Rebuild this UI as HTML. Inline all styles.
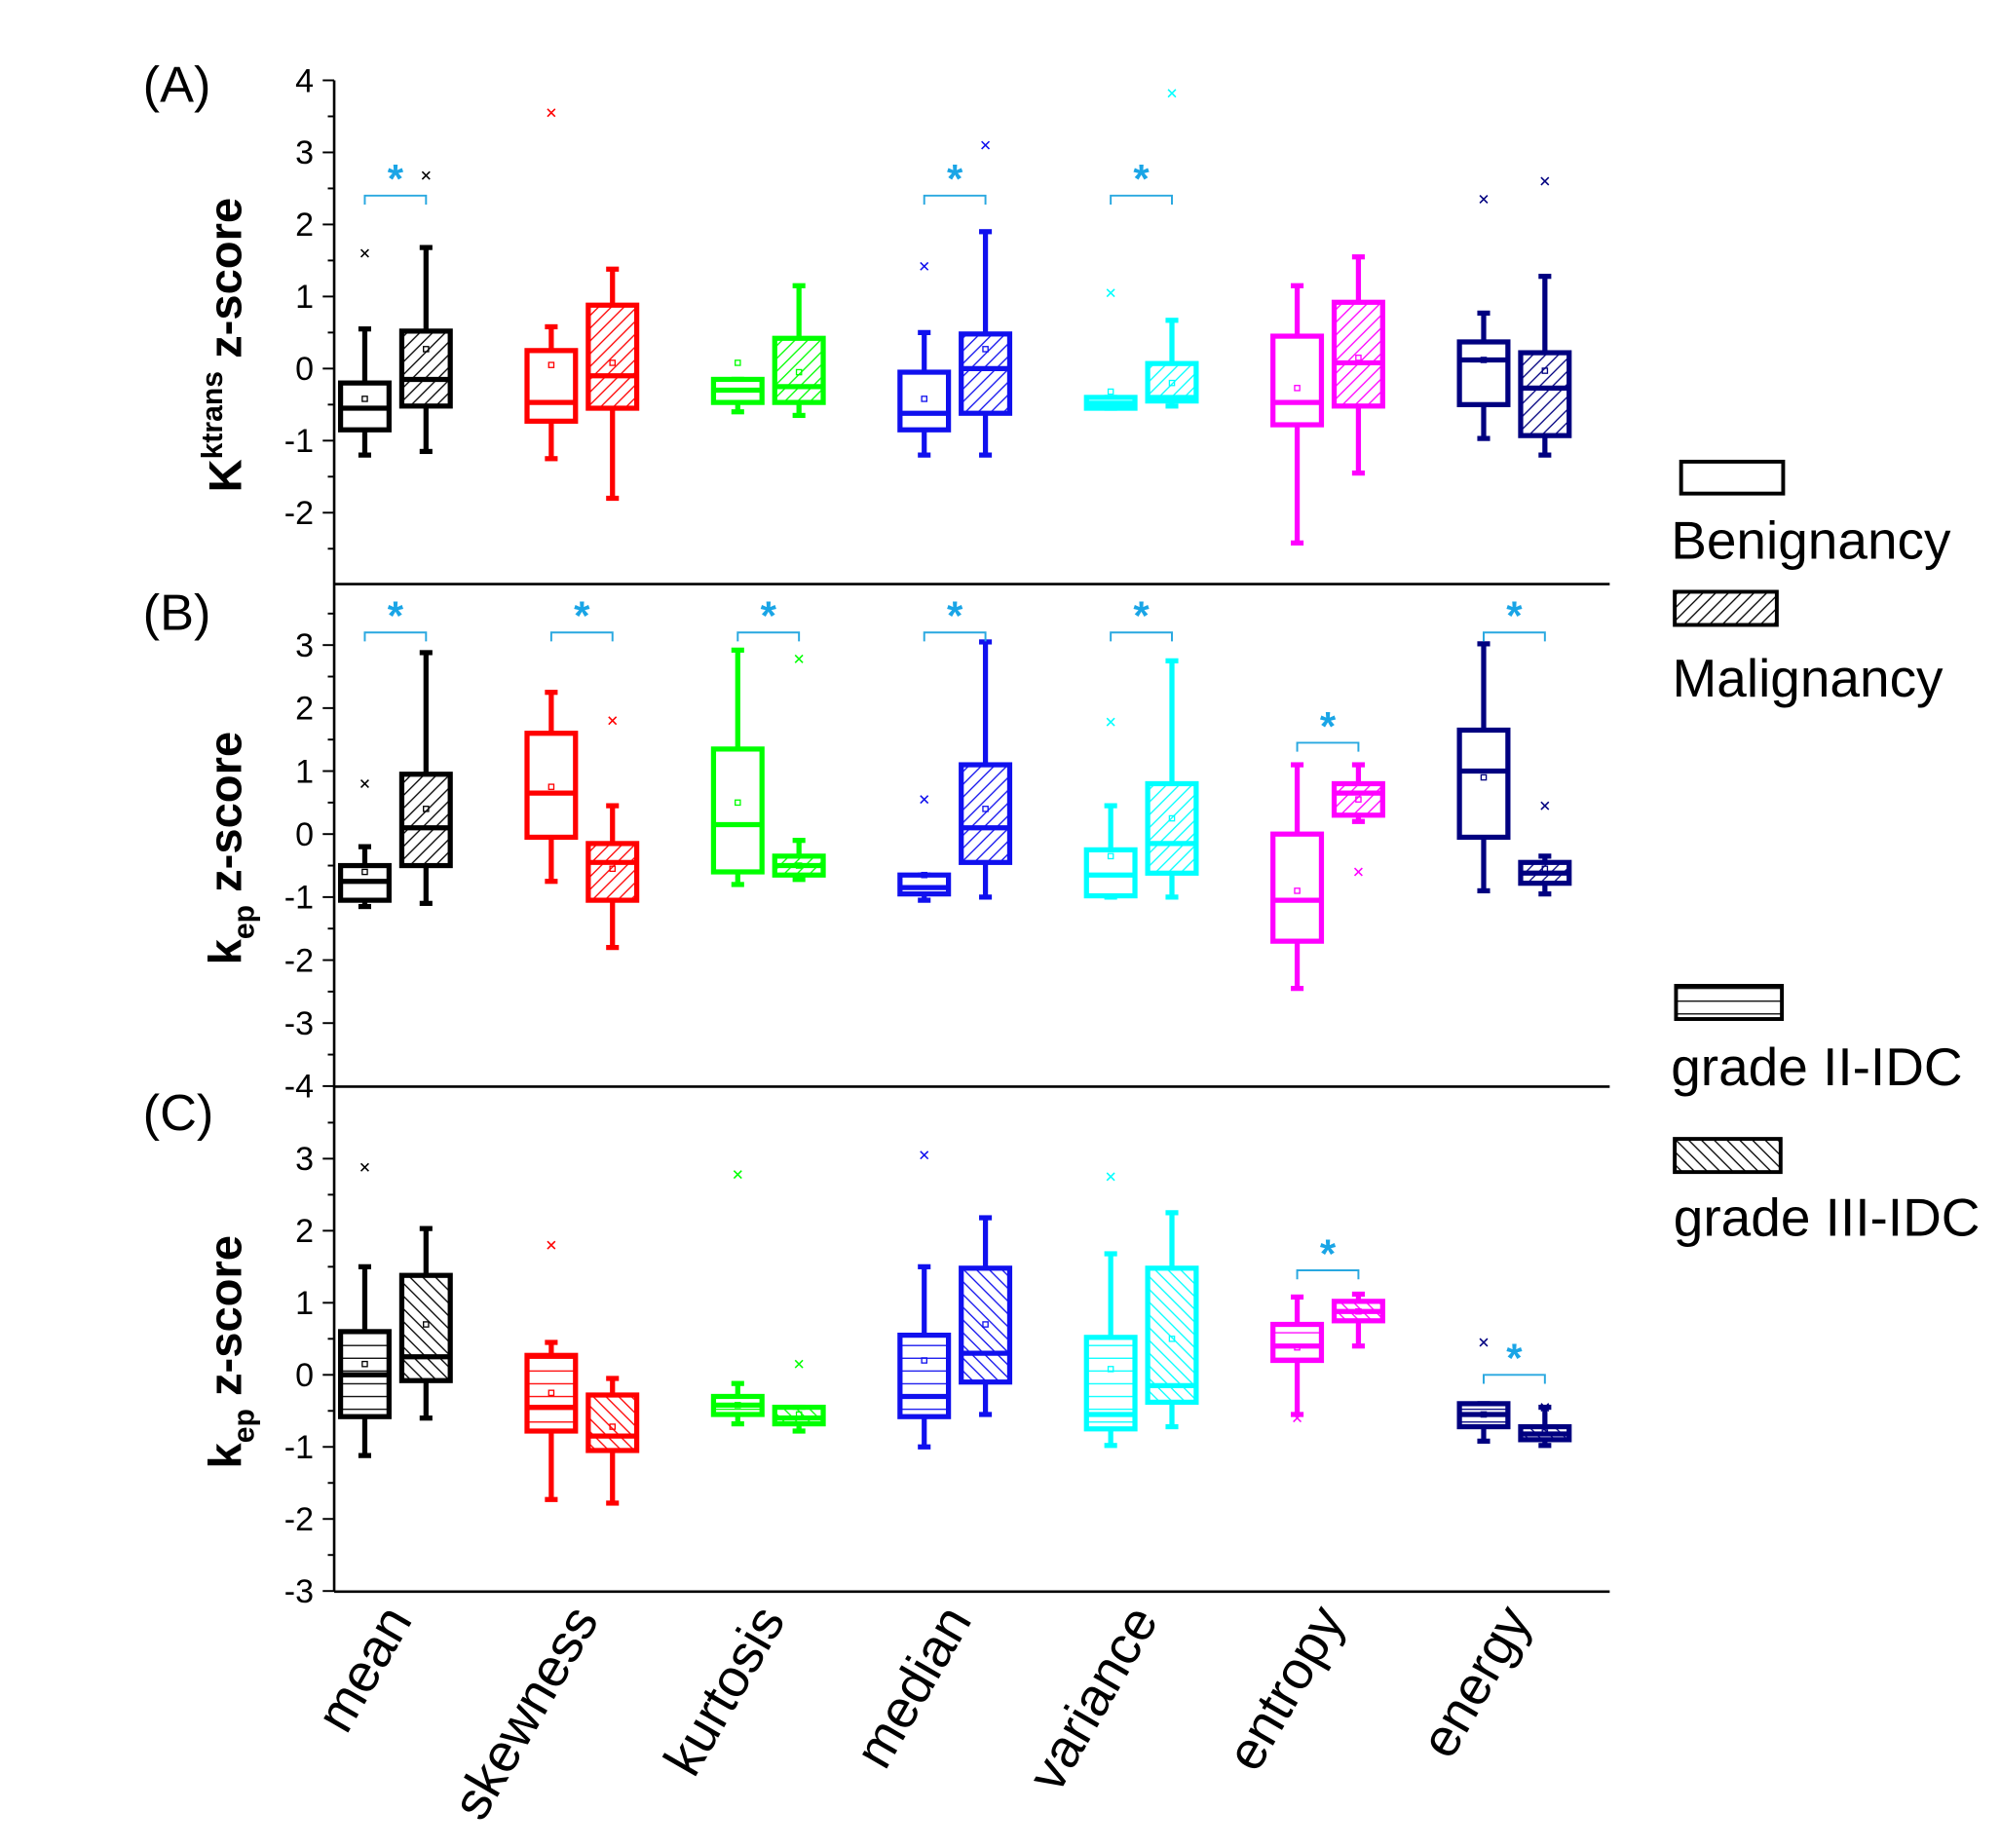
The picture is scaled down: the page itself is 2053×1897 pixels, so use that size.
<!DOCTYPE html>
<html><head><meta charset="utf-8"><style>
html,body{margin:0;padding:0;background:#fff;}
svg{display:block;font-family:"Liberation Sans",Arial,sans-serif;}
</style></head><body>
<svg id="chart" width="2053" height="1897" viewBox="0 0 1568 1449" preserveAspectRatio="none" xmlns="http://www.w3.org/2000/svg">
<defs></defs>
<g id="plot"></g>
<g>
<rect x="1318" y="362" width="80" height="25" fill="none" stroke="#000" stroke-width="3"/>
<text x="1310" y="438" font-size="42">Benignancy</text>
<rect x="1313" y="464" width="80" height="26" fill="url(#lgDiag)" stroke="#000" stroke-width="3"/>
<text x="1311" y="546" font-size="42">Malignancy</text>
<rect x="1314" y="773" width="83" height="26" fill="url(#lgHor)" stroke="#000" stroke-width="3"/>
<text x="1310" y="851" font-size="42">grade II-IDC</text>
<rect x="1313" y="893" width="83" height="26" fill="url(#lgBack)" stroke="#000" stroke-width="3"/>
<text x="1312" y="969" font-size="42">grade III-IDC</text>
</g>
</svg>
<script>
const categories=["mean","skewness","kurtosis","median","variance","entropy","energy"];
const colors=["#000000","#ff0000","#00ff00","#1010ee","#00ffff","#ff00ff","#000080"];
// each: [min,q1,median,q3,max,mean,outlier|null]
const panelA_benign=[[-1.2,-0.85,-0.55,-0.2,0.55,-0.42,1.6],[-1.25,-0.73,-0.47,0.25,0.58,0.05,3.55],[-0.6,-0.47,-0.3,-0.15,-0.15,0.08,null],[-1.2,-0.85,-0.62,-0.05,0.5,-0.42,1.42],[-0.55,-0.55,-0.48,-0.4,-0.4,-0.32,1.05],[-2.42,-0.78,-0.47,0.45,1.15,-0.27,null],[-0.97,-0.5,0.12,0.37,0.77,0.12,2.35]];
const panelA_malig=[[-1.15,-0.52,-0.15,0.52,1.68,0.27,2.68],[-1.8,-0.55,-0.1,0.88,1.38,0.08,null],[-0.65,-0.47,-0.25,0.42,1.15,-0.05,null],[-1.2,-0.62,0.0,0.48,1.9,0.27,3.1],[-0.52,-0.45,-0.4,0.07,0.67,-0.2,3.82],[-1.45,-0.52,0.08,0.92,1.55,0.15,null],[-1.2,-0.93,-0.27,0.22,1.28,-0.03,2.6]];
const panelB_benign=[[-1.15,-1.05,-0.75,-0.5,-0.2,-0.6,0.8],[-0.75,-0.05,0.65,1.6,2.25,0.75,null],[-0.8,-0.6,0.15,1.35,2.92,0.5,null],[-1.05,-0.95,-0.85,-0.65,-0.65,-0.65,0.55],[-1.0,-0.98,-0.65,-0.25,0.45,-0.35,1.78],[-2.45,-1.7,-1.05,0.0,1.1,-0.9,null],[-0.9,-0.05,1.0,1.65,3.02,0.9,null]];
const panelB_malig=[[-1.1,-0.5,0.1,0.95,2.88,0.4,null],[-1.8,-1.05,-0.45,-0.15,0.45,-0.55,1.8],[-0.72,-0.65,-0.5,-0.35,-0.1,-0.5,2.78],[-1.0,-0.45,0.1,1.1,3.05,0.4,null],[-1.0,-0.62,-0.15,0.8,2.75,0.25,null],[0.2,0.3,0.65,0.8,1.1,0.55,-0.6],[-0.95,-0.78,-0.62,-0.45,-0.35,-0.55,0.45]];
const panelC_benign=[[-1.12,-0.58,0.0,0.6,1.5,0.15,2.88],[-1.73,-0.78,-0.45,0.27,0.45,-0.25,1.8],[-0.68,-0.55,-0.42,-0.3,-0.12,-0.42,2.78],[-1.0,-0.58,-0.3,0.55,1.5,0.2,3.05],[-0.98,-0.75,-0.55,0.52,1.68,0.08,2.75],[-0.55,0.2,0.4,0.7,1.08,0.38,-0.6],[-0.92,-0.72,-0.55,-0.4,-0.4,-0.55,0.45]];
const panelC_malig=[[-0.6,-0.08,0.25,1.38,2.03,0.7,null],[-1.78,-1.05,-0.85,-0.28,-0.05,-0.72,null],[-0.78,-0.68,-0.6,-0.45,-0.45,-0.55,0.15],[-0.55,-0.1,0.3,1.48,2.18,0.7,null],[-0.72,-0.38,-0.15,1.48,2.25,0.5,null],[0.4,0.75,0.88,1.02,1.12,0.88,null],[-0.98,-0.9,-0.82,-0.72,-0.45,-0.8,-0.45]];
const sigA=[0,3,4], sigB=[0,1,2,3,4,5,6], sigC=[5,6];
const sigYA=[2.4,2.4,2.4], sigYB=[3.2,3.2,3.2,3.2,3.2,1.45,3.2], sigYC=[1.45,0.0];
const ticksA=[4,3,2,1,0,-1,-2], ticksB=[3,2,1,0,-1,-2,-3,-4], ticksC=[3,2,1,0,-1,-2,-3];

const NS="http://www.w3.org/2000/svg";
const svg=document.getElementById('chart');
const plot=document.getElementById('plot');
const X0=262,X1=1262;
function mk(tag,attrs,parent){const e=document.createElementNS(NS,tag);for(const k in attrs)e.setAttribute(k,attrs[k]);(parent||plot).appendChild(e);return e;}
const defs=svg.querySelector('defs');
function pat(id,color,type){
  const p=mk('pattern',{id:id,patternUnits:'userSpaceOnUse',width:10,height:10},defs);
  let d;
  if(type==='f') d="M-2,12 L12,-2 M-7,7 L7,-7 M3,17 L17,3";
  else if(type==='b') d="M-2,-2 L12,12 M-7,3 L7,17 M3,-7 L17,7";
  else d="M0,5 L10,5";
  mk('path',{d:d,stroke:color,'stroke-width':1,fill:'none'},p);
}
pat('lgDiag','#000','f');pat('lgHor','#000','h');pat('lgBack','#000','b');
colors.forEach((c,i)=>{pat('f'+i,c,'f');pat('b'+i,c,'b');pat('h'+i,c,'h');});
function cx(i){return 310+i*146.2;}
const panels=[
 {name:'A',top:63,bot:458,zero:289,u:56.5,ticks:ticksA,ben:panelA_benign,mal:panelA_malig,bf:null,mf:'f',sig:sigA,sy:sigYA,lab:'(A)',ly:80,min:-2.75,max:4},
 {name:'B',top:458,bot:852,zero:654,u:49.4,ticks:ticksB,ben:panelB_benign,mal:panelB_malig,bf:null,mf:'f',sig:sigB,sy:sigYB,lab:'(B)',ly:494,min:-4,max:3.95},
 {name:'C',top:852,bot:1248,zero:1078,u:56.5,ticks:ticksC,ben:panelC_benign,mal:panelC_malig,bf:'h',mf:'b',sig:sigC,sy:sigYC,lab:'(C)',ly:886,min:-3,max:3.9}
];
panels.forEach(P=>{
  const y=v=>P.zero-v*P.u;
  const g=mk('g',{});
  
  
  for(let v=Math.ceil(P.min*2)/2;v<=P.max+1e-6;v+=0.5){
    const major=Math.abs(v-Math.round(v))<1e-6;
    const t=mk('line',{x1:X0-(major?9:5),x2:X0,y1:y(v),y2:y(v),stroke:'#000','stroke-width':1.5},g);
    
    
  }
  P.ticks.forEach(v=>{
    const t=mk('text',{x:X0-16,y:y(v)+9,'font-size':26,'text-anchor':'end'},g);
    t.textContent=v;
    
    
  });
  const pl=mk('text',{x:112,y:P.ly,'font-size':40},g);
  pl.textContent=P.lab;
  
  
  [[P.ben,-24,P.bf,'benign'],[P.mal,24,P.mf,'malignant']].forEach(([arr,off,fp,kind])=>{
    arr.forEach((d,i)=>{
      const c=colors[i],x=cx(i)+off,w=38;
      const bg=mk('g',{},g);
      
      
      mk('line',{x1:x,x2:x,y1:y(d[0]),y2:y(d[1]),stroke:c,'stroke-width':4},bg);
      mk('line',{x1:x,x2:x,y1:y(d[3]),y2:y(d[4]),stroke:c,'stroke-width':4},bg);
      mk('line',{x1:x-5,x2:x+5,y1:y(d[0]),y2:y(d[0]),stroke:c,'stroke-width':4},bg);
      mk('line',{x1:x-5,x2:x+5,y1:y(d[4]),y2:y(d[4]),stroke:c,'stroke-width':4},bg);
      mk('rect',{x:x-w/2,y:y(d[3]),width:w,height:Math.max(2,y(d[1])-y(d[3])),fill:fp?'url(#'+fp+i+')':'#fff',stroke:c,'stroke-width':4},bg);
      mk('line',{x1:x-w/2,x2:x+w/2,y1:y(d[2]),y2:y(d[2]),stroke:c,'stroke-width':4},bg);
      mk('rect',{x:x-2,y:y(d[5])-2,width:4,height:4,fill:'none',stroke:c,'stroke-width':1},bg);
      if(d[6]!==null){
        const oy=y(d[6]);
        mk('path',{d:`M${x-3},${oy-3}L${x+3},${oy+3}M${x-3},${oy+3}L${x+3},${oy-3}`,stroke:c,'stroke-width':1.2},bg);
      }
    });
  });
  P.sig.forEach((i,k)=>{
    const yy=y(P.sy[k]);
    const sg=mk('g',{},g);
    
    
    mk('path',{d:`M${cx(i)-24},${yy+7}V${yy}H${cx(i)+24}V${yy+7}`,stroke:'#29a8e0','stroke-width':1.5,fill:'none'},sg);
    const s=mk('text',{x:cx(i),y:yy-2,'font-size':32,'font-weight':'bold','text-anchor':'middle',fill:'#1aa5e6'},sg);
    s.textContent='*';
  });
  const yl=mk('text',{transform:`translate(189,${(P.top+P.bot)/2+10}) rotate(-90)`,'font-size':36,'font-weight':'bold','text-anchor':'middle'},g);
  
  
  if(P.name==='A'){yl.innerHTML='K<tspan font-size="23" dy="-15">ktrans</tspan><tspan dy="15"> z-score</tspan>';}
  else{yl.innerHTML='k<tspan font-size="23" dy="10">ep</tspan><tspan dy="-10"> z-score</tspan>';}
});
mk('line',{x1:X0,x2:X0,y1:63,y2:1248,stroke:'#000','stroke-width':2});
[458,852,1248].forEach(yy=>{mk('line',{x1:X0,x2:X1,y1:yy,y2:yy,stroke:'#000','stroke-width':2});});
categories.forEach((c,i)=>{
  const t=mk('text',{transform:`translate(${cx(i)+14},1270) rotate(-60)`,'font-size':42,'text-anchor':'end'});
  t.textContent=c;
  
  
});
</script>
</body></html>
